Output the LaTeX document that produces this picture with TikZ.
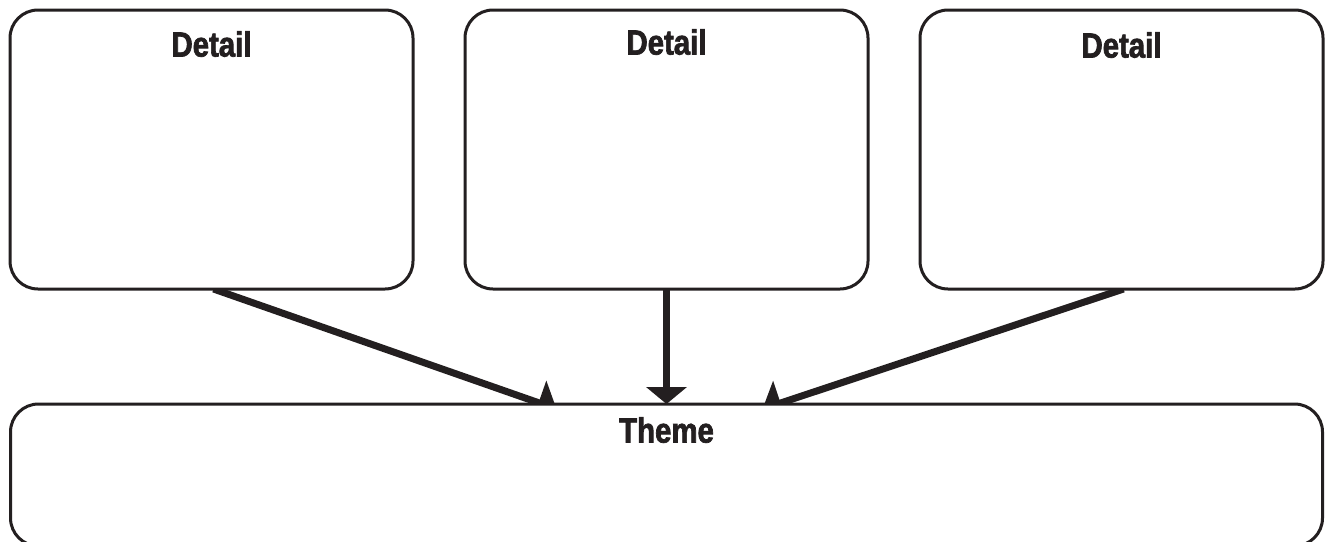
\documentclass[tikz,border=0pt]{standalone}
\usepackage{fontspec}
\setmainfont{Liberation Sans}[FakeStretch=0.84,FakeBold=2]
\usepackage{tikz}
\usetikzlibrary{arrows.meta,positioning,backgrounds}
\definecolor{ink}{HTML}{231F20}

\begin{document}
\begin{tikzpicture}[
    x=1pt, y=-1pt,
    detailbox/.style={
      rectangle,
      draw=ink,
      line width=3pt,
      rounded corners=28pt,
      minimum width=403pt,
      minimum height=279pt,
      outer sep=0pt,
      fill=white
    },
    themebox/.style={
      detailbox,
      minimum width=1312pt,
      minimum height=142pt
    },
    heading/.style={
      font=\bfseries\fontsize{35}{40}\selectfont,
      text=ink,
      inner sep=0pt,
      anchor=north
    },
    link/.style={
      draw=ink,
      line width=7pt,
      -{Triangle[width=40pt,length=17pt,fill=ink]}
    },
    slantlink/.style={
      link,
      -{Triangle[width=46pt,length=19pt,fill=ink]}
    }
  ]
  \useasboundingbox (0,0) rectangle (1329,541);
  % detail boxes
  \node[detailbox] (d1) at (211.5,149.5) {};
  \node[detailbox, right=52pt of d1] (d2) {};
  \node[detailbox, right=52pt of d2] (d3) {};
  \node[themebox, below=115pt of d2] (theme) {};
  % headings
  \node[heading] (h1) at ([yshift=-21pt]d1.north) {Detail};
  \node[heading] (h2) at ([yshift=-19pt]d2.north) {Detail};
  \node[heading] (h3) at ([yshift=-22pt]d3.north) {Detail};
  \node[heading] (ht) at ([yshift=-13pt]theme.north) {Theme};
  % arrows
  \begin{scope}[on background layer]
    \draw[slantlink] ([xshift=2pt]d1.south) -- ([xshift=-110pt,yshift=-5pt]theme.north);
    \draw[link] (d2.south) -- (theme.north);
    \draw[slantlink] ([xshift=2pt]d3.south) -- ([xshift=96pt,yshift=-5pt]theme.north);
  \end{scope}
\end{tikzpicture}
\end{document}
